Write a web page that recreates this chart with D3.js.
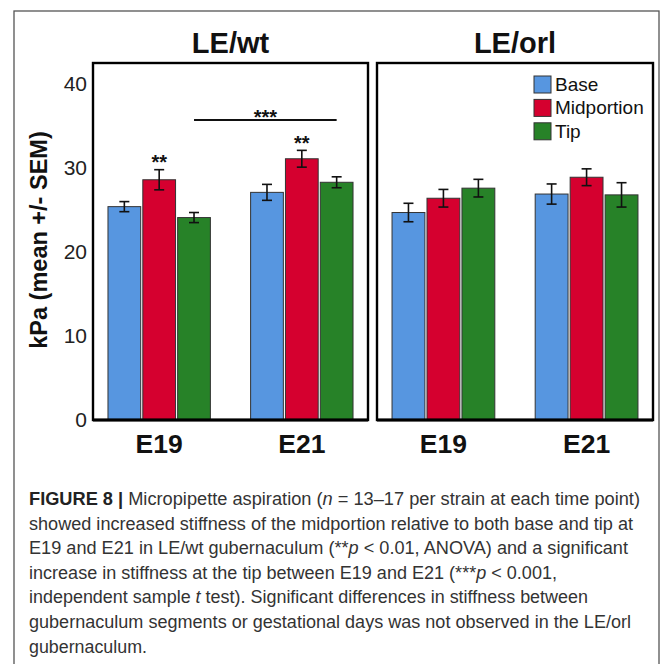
<!DOCTYPE html>
<html>
<head>
<meta charset="utf-8">
<script src="https://cdn.jsdelivr.net/npm/d3@7"></script>
<style>
  body { margin: 0; background: #fff; }
  svg { display: block; font-family: "Liberation Sans", Arial, Helvetica, sans-serif; }
</style>
</head>
<body>
<svg id="fig" width="669" height="664"></svg>
<script>
// data
const strains = ["LE/wt", "LE/orl"];
const days = ["E19", "E21"];
const segments = ["Base", "Midportion", "Tip"];
// order: E19 base, mid, tip, E21 base, mid, tip
const wtMean = [25.4, 28.6, 24.1, 27.1, 31.1, 28.3];
const wtSem = [0.6, 1.2, 0.6, 0.95, 1.0, 0.65];
const orlMean = [24.7, 26.4, 27.6, 26.9, 28.9, 26.8];
const orlSem = [1.1, 1.05, 1.05, 1.2, 1.0, 1.45];
const yTicks = [0, 10, 20, 30, 40];
const colors = ["#5796e0", "#d5002f", "#278228"];

const caption = [
  [["FIGURE 8 |", "b"], [" Micropipette aspiration (", ""], ["n", "i"], [" = 13–17 per strain at each time point)", ""]],
  [["showed increased stiffness of the midportion relative to both base and tip at", ""]],
  [["E19 and E21 in LE/wt gubernaculum (**", ""], ["p", "i"], [" < 0.01, ANOVA) and a significant", ""]],
  [["increase in stiffness at the tip between E19 and E21 (***", ""], ["p", "i"], [" < 0.001,", ""]],
  [["independent sample ", ""], ["t", "i"], [" test). Significant differences in stiffness between", ""]],
  [["gubernaculum segments or gestational days was not observed in the LE/orl", ""]],
  [["gubernaculum.", ""]]
];
const captionEnds = [640, 633, 628, 557, 588, 631, 147];

const svg = d3.select("#fig");

// outer frame
svg.append("rect")
  .attr("x", 14).attr("y", 11)
  .attr("width", 645).attr("height", 670)
  .attr("fill", "#fff")
  .attr("stroke", "#555").attr("stroke-width", 1.3);

const plotTop = 63, plotBottom = 420;
const y = d3.scaleLinear().domain([0, 42.5]).range([plotBottom, plotTop]);

const panels = [
  { name: strains[0], x: [93, 368], mean: wtMean, sem: wtSem },
  { name: strains[1], x: [377, 653], mean: orlMean, sem: orlSem }
];

panels.forEach((p, pi) => {
  const x0 = d3.scaleBand().domain(days).range(p.x)
    .paddingInner(0.282).paddingOuter(0.105);
  const x1 = d3.scaleBand().domain(segments).range([0, x0.bandwidth()])
    .paddingInner(0.06);

  const g = svg.append("g");

  g.append("rect")
    .attr("x", p.x[0]).attr("y", plotTop)
    .attr("width", p.x[1] - p.x[0]).attr("height", plotBottom - plotTop)
    .attr("fill", "#fff");

  const rows = [];
  days.forEach((d, di) => segments.forEach((s, si) => {
    rows.push({ day: d, seg: s, si, mean: p.mean[di * 3 + si], sem: p.sem[di * 3 + si] });
  }));

  g.selectAll("rect.bar")
    .data(rows)
    .join("rect")
      .attr("class", "bar")
      .attr("x", d => x0(d.day) + x1(d.seg))
      .attr("y", d => y(d.mean))
      .attr("width", x1.bandwidth())
      .attr("height", d => y(0) - y(d.mean))
      .attr("fill", d => colors[d.si])
      .attr("stroke", "#333")
      .attr("stroke-width", 1);

  const eb = g.selectAll("g.err")
    .data(rows)
    .join("g")
      .attr("class", "err")
      .attr("transform", d => `translate(${x0(d.day) + x1(d.seg) + x1.bandwidth() / 2},0)`);
  eb.append("line")
    .attr("y1", d => y(d.mean - d.sem)).attr("y2", d => y(d.mean + d.sem))
    .attr("stroke", "#111").attr("stroke-width", 1.6);
  eb.append("line")
    .attr("x1", -5).attr("x2", 5)
    .attr("y1", d => y(d.mean + d.sem)).attr("y2", d => y(d.mean + d.sem))
    .attr("stroke", "#111").attr("stroke-width", 1.6);
  eb.append("line")
    .attr("x1", -5).attr("x2", 5)
    .attr("y1", d => y(d.mean - d.sem)).attr("y2", d => y(d.mean - d.sem))
    .attr("stroke", "#111").attr("stroke-width", 1.6);

  // panel frame
  g.append("rect")
    .attr("x", p.x[0]).attr("y", plotTop)
    .attr("width", p.x[1] - p.x[0]).attr("height", plotBottom - plotTop)
    .attr("fill", "none")
    .attr("stroke", "#000").attr("stroke-width", 2.4);
  g.append("line")
    .attr("x1", p.x[0]).attr("x2", p.x[1])
    .attr("y1", plotBottom).attr("y2", plotBottom)
    .attr("stroke", "#000").attr("stroke-width", 3);

  // strain title
  svg.append("text")
    .attr("x", (p.x[0] + p.x[1]) / 2).attr("y", 53)
    .attr("text-anchor", "middle")
    .attr("font-size", 29).attr("font-weight", "bold")
    .attr("fill", "#111")
    .text(p.name);

  // day labels
  svg.append("g")
    .selectAll("text")
    .data(days)
    .join("text")
      .attr("x", d => x0(d) + x0.bandwidth() / 2)
      .attr("y", 452.5)
      .attr("text-anchor", "middle")
      .attr("font-size", 26.5).attr("font-weight", "bold")
      .attr("fill", "#111")
      .text(d => d);

  // significance marks for LE/wt
  if (pi === 0) {
    const cx = (day, seg) => x0(day) + x1(seg) + x1.bandwidth() / 2;
    [0, 1].forEach(di => {
      const m = p.mean[di * 3 + 1] + p.sem[di * 3 + 1];
      svg.append("text")
        .attr("x", cx(days[di], "Midportion"))
        .attr("y", y(m) - 0.5)
        .attr("text-anchor", "middle")
        .attr("font-size", 20).attr("font-weight", "bold")
        .attr("fill", "#111")
        .text("**");
    });
    const ly = y(35.7);
    svg.append("line")
      .attr("x1", cx("E19", "Tip")).attr("x2", cx("E21", "Tip"))
      .attr("y1", ly).attr("y2", ly)
      .attr("stroke", "#111").attr("stroke-width", 2);
    svg.append("text")
      .attr("x", (cx("E19", "Tip") + cx("E21", "Tip")) / 2)
      .attr("y", ly + 3.5)
      .attr("text-anchor", "middle")
      .attr("font-size", 20).attr("font-weight", "bold")
      .attr("fill", "#111")
      .text("***");
  }
});

// y axis
const yAxis = svg.append("g")
  .attr("transform", "translate(93,0)")
  .call(d3.axisLeft(y).tickValues(yTicks).tickSize(0).tickPadding(6));
yAxis.select(".domain").remove();
yAxis.selectAll("text")
  .attr("font-size", 21)
  .attr("font-family", "Liberation Sans, Arial, sans-serif")
  .attr("fill", "#222");

svg.append("text")
  .attr("transform", "translate(47,240) rotate(-90)")
  .attr("text-anchor", "middle")
  .attr("font-size", 23.5).attr("font-weight", "bold")
  .attr("fill", "#111")
  .text("kPa (mean +/- SEM)");

// legend
const legend = svg.append("g").attr("transform", "translate(534,76)");
segments.forEach((s, i) => {
  legend.append("rect")
    .attr("x", 0).attr("y", i * 23.4)
    .attr("width", 17).attr("height", 17)
    .attr("fill", colors[i])
    .attr("stroke", "#333").attr("stroke-width", 1);
  legend.append("text")
    .attr("x", 21).attr("y", i * 23.4 + 15)
    .attr("font-size", 19)
    .attr("fill", "#111")
    .text(s);
});

// caption
caption.forEach((line, i) => {
  const t = svg.append("text")
    .attr("x", 29).attr("y", 505 + i * 24.6)
    .attr("font-size", 17.5)
    .attr("fill", "#333")
    .attr("textLength", captionEnds[i] - 29)
    .attr("lengthAdjust", "spacingAndGlyphs");
  line.forEach(([txt, st]) => {
    t.append("tspan")
      .attr("font-weight", st === "b" ? "bold" : null)
      .attr("font-style", st === "i" ? "italic" : null)
      .attr("fill", st === "b" ? "#222" : null)
      .text(txt);
  });
});
</script>
</body>
</html>
